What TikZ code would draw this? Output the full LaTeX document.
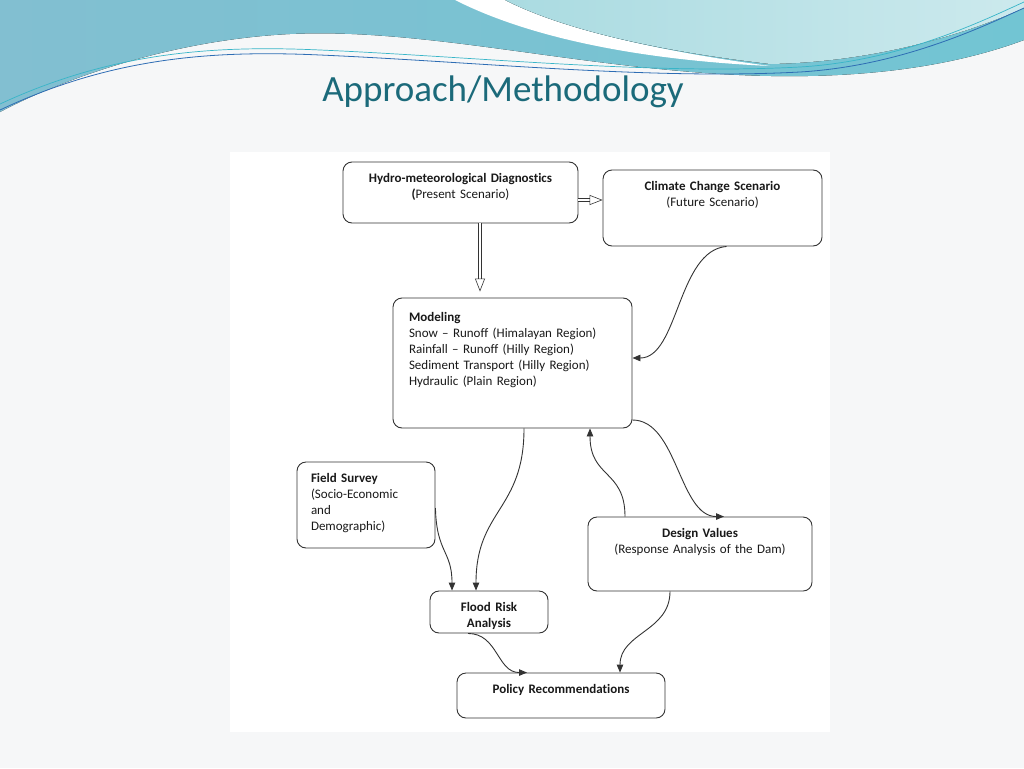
\documentclass[tikz,border=0pt]{standalone}
\usepackage{fontspec}
\setmainfont{Carlito}[WordSpace=0.65, Ligatures=NoCommon]
\usetikzlibrary{arrows.meta}
\definecolor{slidebg}{HTML}{F6F7F8}
\definecolor{wavedark}{HTML}{82BFD1}
\definecolor{wavemid}{HTML}{72C5D3}
\definecolor{wavelight}{HTML}{AADBE1}
\definecolor{titleteal}{HTML}{1B6A7A}
\definecolor{linegrey}{HTML}{333333}
\definecolor{waveblue}{HTML}{2E6DB4}
\definecolor{wavecyan}{HTML}{38B5C8}
\begin{document}
\begin{tikzpicture}[x=1pt, y=-1pt,
  main/.style = {draw=linegrey, line width=0.9pt, rounded corners=9pt, fill=white, align=center, inner xsep=6pt, inner ysep=11pt, text height=9pt, text=black!90, font=\fontsize{13}{16}\selectfont},
  flow/.style = {draw=linegrey, line width=0.9pt, -{Triangle[length=8pt, width=6.5pt]}},
  hollow/.style = {draw=linegrey, line width=0.6pt, double, double distance=2.8pt, -{Triangle[open, length=13pt, width=10pt]}}]
\useasboundingbox (0,0) rectangle (1024,768);
\fill[slidebg] (0,0) rectangle (1024,768);

\fill[left color=wavedark, right color=wavemid] (0,0) -- (1024,0) -- (1024,40) .. controls (930,75) and (820,80) .. (720,74) .. controls (560,64) and (420,28) .. (290,34) .. controls (170,40) and (60,80) .. (0,112) -- cycle;
\fill[white] (455,0) .. controls (530,38) and (640,60) .. (770,66) .. controls (650,50) and (560,28) .. (505,0) -- cycle;
\fill[left color=wavelight, right color=wavelight!60!white] (505,0) .. controls (560,28) and (650,50) .. (770,64) .. controls (880,62) and (970,32) .. (1024,8) -- (1024,0) -- cycle;
\draw[waveblue, line width=0.8pt] (0,110) .. controls (110,58) and (210,50) .. (320,55) .. controls (480,62) and (650,80) .. (800,72) .. controls (900,66) and (980,28) .. (1024,8);
\draw[wavecyan, line width=0.7pt] (0,104) .. controls (110,53) and (210,45) .. (320,50) .. controls (480,57) and (650,75) .. (800,67) .. controls (900,61) and (980,22) .. (1024,2);

\fill[white] (230,152) rectangle (830,732);
\node[font=\fontsize{37}{40}\selectfont, text=titleteal, anchor=base] (title) at (503,101) {Approach/Methodology};

\node[main, text width=223pt, text depth=30pt] (hydro) at (460.5,192.5) {\textbf{Hydro-meteorological Diagnostics}\\\textbf{(}Present Scenario)};
\node[main, text width=207pt, text depth=45pt] (climate) at (712.5,208) {\textbf{Climate Change Scenario}\\(Future Scenario)};
\node[main, align=left, inner xsep=16pt, inner ysep=14pt, text width=207pt, text depth=93pt] (model) at (512.5,363) {\textbf{Modeling}\\Snow -- Runoff (Himalayan Region)\\Rainfall -- Runoff (Hilly Region)\\Sediment Transport (Hilly Region)\\Hydraulic (Plain Region)};
\node[main, align=left, inner xsep=14pt, text width=110pt, text depth=55pt] (field) at (366,505) {\textbf{Field Survey}\\(Socio-Economic\\and\\Demographic)};
\node[main, text width=106pt, text depth=11pt] (flood) at (489,612) {\textbf{Flood Risk}\\\textbf{Analysis}};
\node[main, text width=212pt, text depth=43pt] (design) at (700,554) {\textbf{Design Values}\\(Response Analysis of the Dam)};
\node[main, text width=196pt, text depth=14pt] (policy) at (561,695.5) {\textbf{Policy Recommendations}};

\draw[hollow] ([yshift=-7.5pt]hydro.east) -- ([yshift=8pt]climate.west);
\draw[hollow, shorten >=6pt] ([xshift=19.5pt]hydro.south) -- ([xshift=-32.5pt]model.north);
\draw[flow] ([xshift=14pt]climate.south) .. controls +(-49,4) and +(46,0) .. ([yshift=5pt]model.east);
\draw[flow] ([yshift=-57pt]model.east) .. controls +(45,0) and +(-45,0) .. ([xshift=24pt]design.north);
\draw[flow] ([xshift=-75pt]design.north) .. controls +(0,-47) and +(0,50) .. ([xshift=77.5pt]model.south);
\draw[flow] ([xshift=11.5pt]model.south) .. controls +(0,82) and +(0,-81) .. ([xshift=-13pt]flood.north);
\draw[flow] ([yshift=-3pt]field.east) .. controls +(1,45) and +(0,-40) .. ([xshift=-37pt]flood.north);
\draw[flow] ([xshift=-21pt]flood.south) .. controls +(30,0) and +(-30,0) .. ([xshift=-34pt]policy.north);
\draw[flow] ([xshift=-30pt]design.south) .. controls +(0,40) and +(0,-40) .. ([xshift=59pt]policy.north);
\end{tikzpicture}
\end{document}
